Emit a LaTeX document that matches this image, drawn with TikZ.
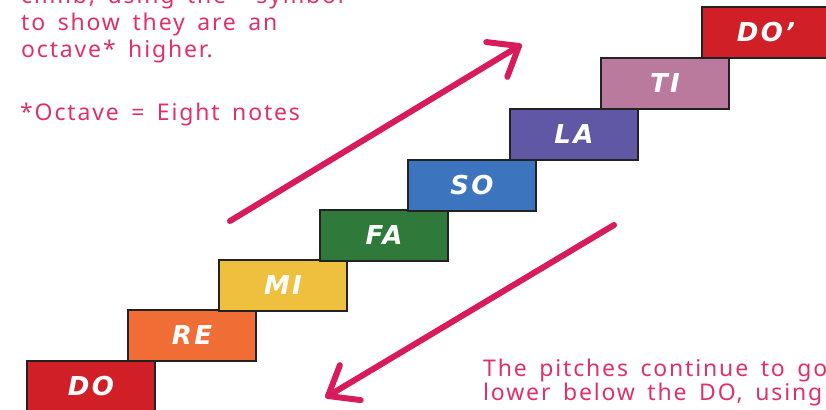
\documentclass[tikz,border=0pt]{standalone}
\usepackage{fontspec}
\setmainfont{Noto Sans}
\newfontfamily\hand{Noto Sans}[LetterSpace=8,WordSpace=1.6]
\newfontfamily\lab{DejaVu Sans}[LetterSpace=9]
\usetikzlibrary{calc}
\definecolor{pinktxt}{HTML}{E0306A}
\definecolor{arrowpink}{HTML}{D81B5A}
\definecolor{cdo}{HTML}{D01F27}
\definecolor{cre}{HTML}{F06E35}
\definecolor{cmi}{HTML}{EFBF3E}
\definecolor{cfa}{HTML}{2F7A3B}
\definecolor{cso}{HTML}{3C75BD}
\definecolor{cla}{HTML}{6057A5}
\definecolor{cti}{HTML}{BA7A9E}
\definecolor{edge}{HTML}{222222}
\tikzset{
  stepbox/.style={draw=edge, line width=2pt, anchor=north west, minimum width=128pt,
    minimum height=51pt, inner sep=0pt, text=white,
    font=\lab\bfseries\itshape\fontsize{26}{26}\selectfont},
  arr/.style={draw=arrowpink, line width=6pt, line cap=round, line join=round},
  note/.style={anchor=base west, inner sep=0pt, text=pinktxt,
    font=\hand\fontsize{23}{23}\selectfont}
}
\begin{document}
\begin{tikzpicture}[x=1pt,y=-1pt]
\useasboundingbox (0,0) rectangle (826,409);
\clip (0,0) rectangle (826,409);
% steps
\node[stepbox, fill=cdo] (do)  at (26,360) {DO};
\node[stepbox, fill=cre] (re)  at (127,309) {RE};
\node[stepbox, fill=cmi] (mi)  at (218,259) {MI};
\node[stepbox, fill=cfa] (fa)  at (319,209) {FA};
\node[stepbox, fill=cso] (so)  at (407,159) {SO};
\node[stepbox, fill=cla] (la)  at (509,108) {LA};
\node[stepbox, fill=cti] (ti)  at (600,57) {TI};
\node[stepbox, fill=cdo] (dop) at (701,6) {DO’};
% arrows
\coordinate (u1) at (230,221);
\coordinate (u2) at (519,46);
\draw[arr] (u1) -- (u2);
\draw[arr] ($(u2)!33pt!38:(u1)$) -- (u2) -- ($(u2)!33pt!-38:(u1)$);
\coordinate (d1) at (614,225);
\coordinate (d2) at (328,396);
\draw[arr] (d1) -- (d2);
\draw[arr] ($(d2)!33pt!38:(d1)$) -- (d2) -- ($(d2)!33pt!-38:(d1)$);
% notes
\node[note] (t1) at (21,4) {climb, using the ' symbol};
\node[note] (t2) at (21,31) {to show they are an};
\node[note] (t3) at (21,58) {octave* higher.};
\node[note] (t4) at (20,121) {*Octave = Eight notes};
\node[note] (b1) at (483,376) {The pitches continue to go};
\node[note] (b2) at (483,400) {lower below the DO, using};
\end{tikzpicture}
\end{document}
